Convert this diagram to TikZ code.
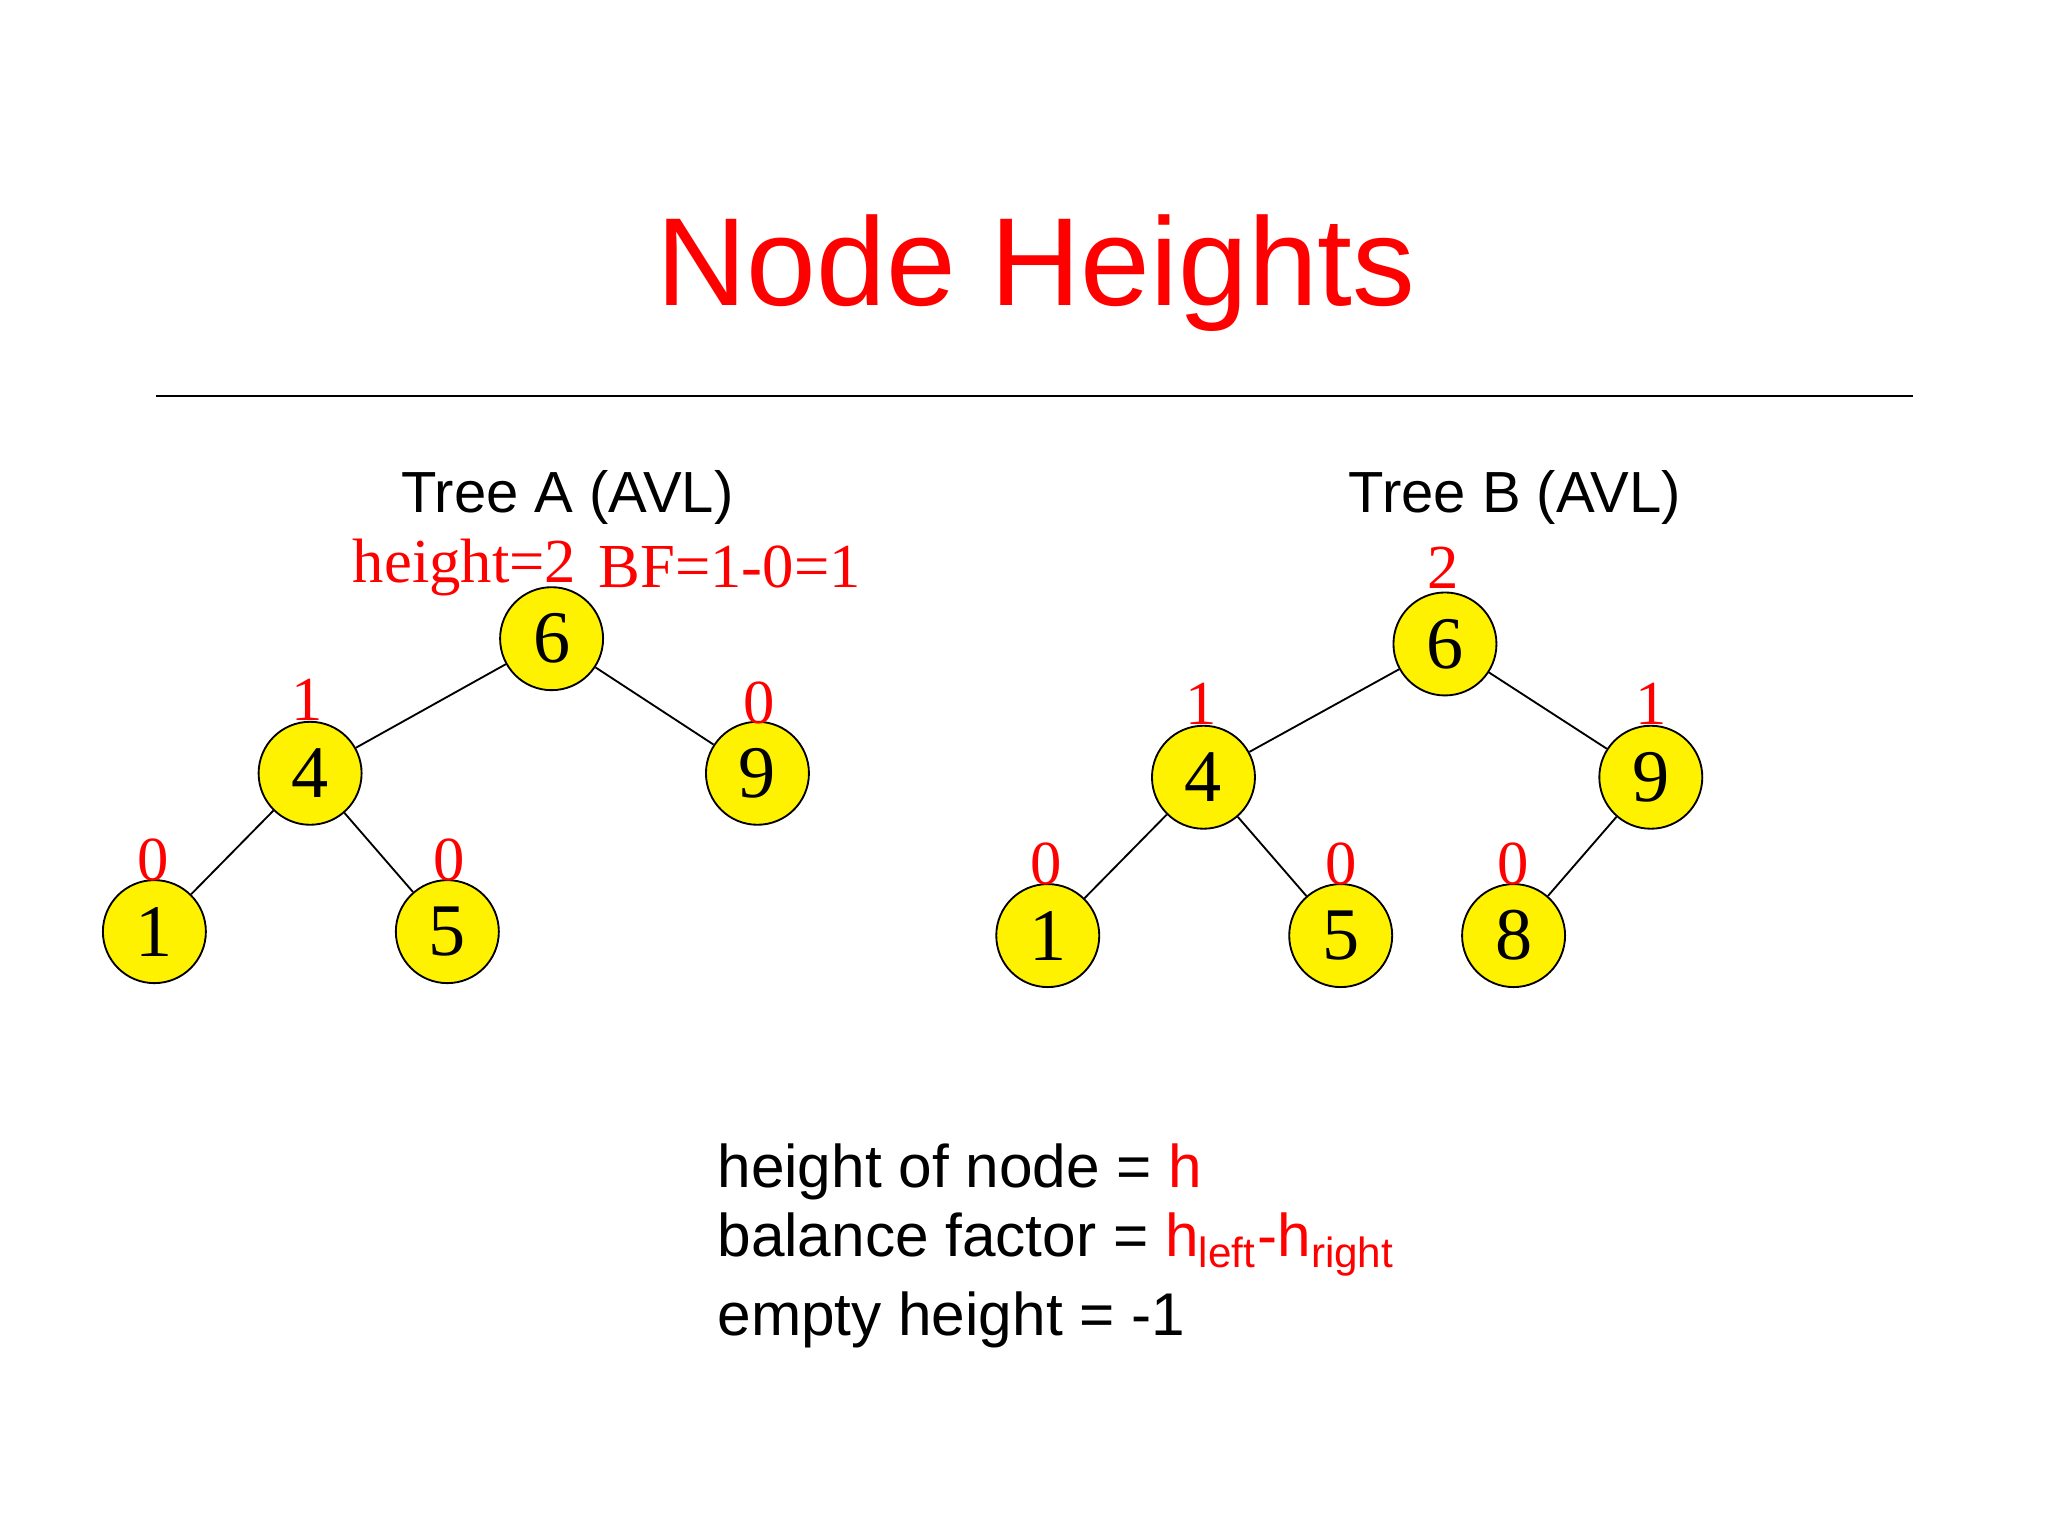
\documentclass[tikz,border=0pt]{standalone}
\usepackage{fontspec}
\setmainfont{Liberation Serif}
\newfontfamily\sans{Liberation Sans}
\begin{document}
\begin{tikzpicture}[x=0.01cm,y=-0.01cm,
  tn/.style={circle,draw,fill=yellow,minimum size=78\pgflinewidth*0+0.78cm,inner sep=0pt,font=\fontsize{16}{16}\selectfont},
  lb/.style={text=red,font=\fontsize{13.5}{13.5}\selectfont,inner sep=0pt},
  tt/.style={font=\sans\fontsize{12.5}{14}\selectfont},
  bt/.style={font=\sans\fontsize{13}{15}\selectfont,anchor=base west,inner sep=0pt}]
\useasboundingbox (0,0) rectangle (1552,1164);
\node[font=\sans\fontsize{27}{30}\selectfont,text=red] (title) at (785,207) {Node Heights};
\coordinate (l1) at (118,300); \coordinate (l2) at (1450,300);
\draw (l1) -- (l2);
\node[tt] (ta) at (430,377) {Tree A (AVL)};
\node[tt] (tb) at (1148,377) {Tree B (AVL)};
% Tree A
\node[tn] (a6) at (418,484) {6};
\node[tn] (a4) at (235,586) {4};
\node[tn] (a9) at (574,586) {9};
\node[tn] (a1) at (117,706) {1};
\node[tn] (a5) at (339,706) {5};
\draw (a6)--(a4) (a6)--(a9) (a4)--(a1) (a4)--(a5);
\node[lb] (ha) at (352,430) {height=2};
\node[lb] (bfa) at (553,430) {BF=1-0=1};
\node[lb] (la4) at (233,530) {1};
\node[lb] (la9) at (575,533) {0};
\node[lb] (la1) at (116,652) {0};
\node[lb] (la5) at (340,652) {0};
% Tree B
\node[tn] (b6) at (1095,488) {6};
\node[tn] (b4) at (912,589) {4};
\node[tn] (b9) at (1251,589) {9};
\node[tn] (b1) at (794,709) {1};
\node[tn] (b5) at (1016,709) {5};
\node[tn] (b8) at (1147,709) {8};
\draw (b6)--(b4) (b6)--(b9) (b4)--(b1) (b4)--(b5) (b9)--(b8);
\node[lb] (lb6) at (1094,430) {2};
\node[lb] (lb4) at (910,533) {1};
\node[lb] (lb9) at (1251,533) {1};
\node[lb] (lb1) at (793,655) {0};
\node[lb] (lb5) at (1016,655) {0};
\node[lb] (lb8) at (1147,655) {0};
% bottom
\node[bt] (t1) at (543,900) {height of node = \textcolor{red}{h}};
\node[bt] (t2) at (543,952) {balance factor = \textcolor{red}{h\textsubscript{left}-h\textsubscript{right}}};
\node[bt] (t3) at (543,1012) {empty height = -1};
\end{tikzpicture}
\end{document}
